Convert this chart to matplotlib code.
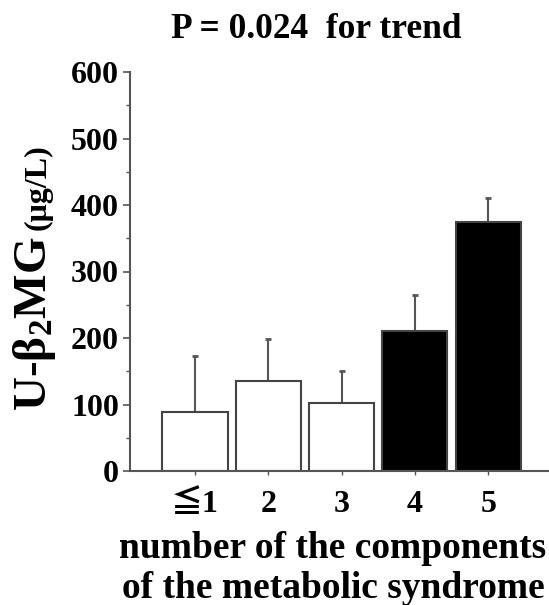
import numpy as np
import matplotlib
matplotlib.use("Agg")
import matplotlib.pyplot as plt
from matplotlib.ticker import MultipleLocator

# values
groups = ['≦1', '2', '3', '4', '5']
means = [88, 135, 103, 210, 375]
sd = [85, 63, 47, 55, 35]
bar_colors = ['white', 'white', 'white', 'black', 'black']

plt.rcParams['font.family'] = ['Liberation Serif', 'Noto Sans CJK JP', 'DejaVu Sans']
plt.rcParams['font.weight'] = 'bold'
plt.rcParams['mathtext.fontset'] = 'custom'
plt.rcParams['mathtext.bf'] = 'Liberation Serif:bold'
plt.rcParams['mathtext.rm'] = 'Liberation Serif:bold'
plt.rcParams['mathtext.default'] = 'bf'

W, H = 549, 605
fig = plt.figure(figsize=(W / 100, H / 100), dpi=100)
ax = fig.add_axes([130 / W, 1 - 471 / H, (W - 130) / W, (471 - 72) / H])

x = np.arange(len(groups))
edge = '#444444'
ax.bar(x, means, width=0.89, color=bar_colors, edgecolor=edge, linewidth=1.5, zorder=2)
# upper error bars only
ax.errorbar(x, means, yerr=[np.zeros(len(sd)), sd], fmt='none', ecolor='#555555',
            elinewidth=1.5, capsize=2.5, capthick=2, zorder=1)

ax.set_xlim(-0.887, 4.83)
ax.set_ylim(0, 600)
ax.yaxis.set_major_locator(MultipleLocator(100))
ax.yaxis.set_minor_locator(MultipleLocator(50))

for s in ['top', 'right']:
    ax.spines[s].set_visible(False)
for s in ['left', 'bottom']:
    ax.spines[s].set_color('#555555')
    ax.spines[s].set_linewidth(1.5)

ax.set_xticks(x)
ax.set_xticklabels(groups)
ax.tick_params(axis='y', which='major', length=5, width=1.2, color='#555555',
               labelsize=23, pad=3)
ax.tick_params(axis='y', which='minor', length=3, width=1.0, color='#555555')
ax.tick_params(axis='x', length=3, width=1.0, color='#555555', labelsize=23, pad=11)

fig.text(316 / W, 1 - 29 / H, 'P = 0.024  for trend', ha='center', va='center',
         fontsize=25.5, fontweight='bold')

xlabel_lines = ['number of the components', 'of the metabolic syndrome']
for line, ypx in zip(xlabel_lines, [548, 588]):
    fig.text(333 / W, 1 - ypx / H, line, ha='center', va='center',
             fontsize=27, fontweight='bold')

# y label: large part plus smaller unit
big = fig.text(46 / W, 1 - 411 / H, 'U-β$_2$MG', rotation=90, rotation_mode='anchor',
               ha='left', va='baseline', fontsize=34, fontweight='bold')
fig.canvas.draw()
bb = big.get_window_extent()
fig.text(46 / W, (bb.y1 + 6) / H, '(μg/L)', rotation=90, rotation_mode='anchor',
         ha='left', va='baseline', fontsize=23, fontweight='bold')

fig.savefig('out.png', dpi=100)
